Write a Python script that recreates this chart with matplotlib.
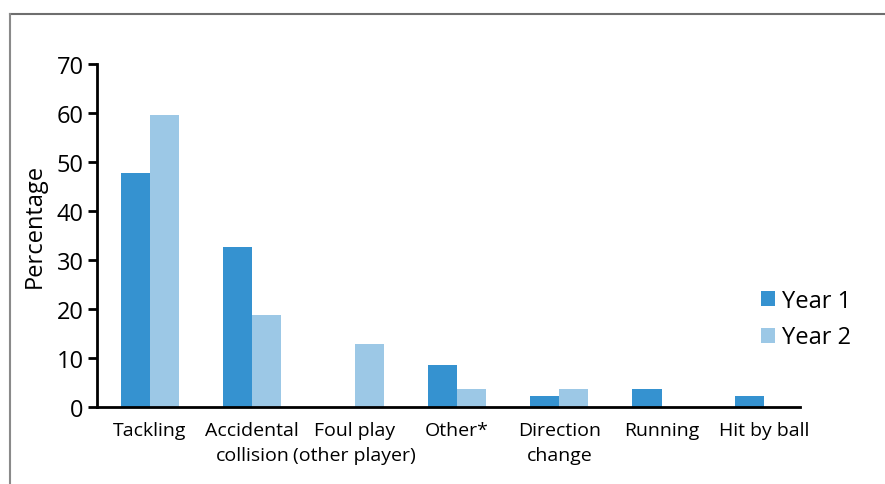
import numpy as np
import matplotlib.pyplot as plt
from matplotlib.lines import Line2D
from matplotlib.patches import Patch

plt.rcParams['font.family'] = ['Open Sans', 'DejaVu Sans']

# данные
categories = ['Tackling', 'Accidental\ncollision', 'Foul play\n(other player)', 'Other*',
              'Direction\nchange', 'Running', 'Hit by ball']
year1 = [47.8, 32.6, 0, 8.6, 2.3, 3.6, 2.3]
year2 = [59.6, 18.8, 12.9, 3.6, 3.6, 0, 0]
series_names = ['Year 1', 'Year 2']
colors = ['#3592D0', '#9CC8E6']

fig = plt.figure(figsize=(8.85, 4.85), dpi=100)
ax = fig.add_axes([97 / 885, (485 - 408) / 485, (800 - 97) / 885, (408 - 65) / 485])

x = np.arange(len(categories))
w = 0.285
ax.bar(x - w / 2, year1, width=w, color=colors[0], linewidth=0)
ax.bar(x + w / 2, year2, width=w, color=colors[1], linewidth=0)

ax.set_xlim(-0.518, 6.352)
ax.set_ylim(0, 70)
ax.set_yticks(range(0, 71, 10))
ax.set_xticks(x)
ax.set_xticklabels(categories, fontsize=14, linespacing=1.5)
ax.tick_params(axis='x', length=0, pad=10)
ax.tick_params(axis='y', length=6.5, width=2, labelsize=17, pad=3)

for s in ['top', 'right']:
    ax.spines[s].set_visible(False)
ax.spines['left'].set_linewidth(2)
ax.spines['bottom'].set_linewidth(2)

ax.set_ylabel('Percentage', fontsize=17)
ax.yaxis.set_label_coords(-0.092 + 0.02, 0.53)

handles = [Patch(color=c, linewidth=0) for c in colors]
fig.legend(handles, series_names, loc='center left', bbox_to_anchor=(740 / 885, (485 - 320) / 485),
           frameon=False, fontsize=17, handlelength=0.6, handleheight=0.6,
           handletextpad=0.3, labelspacing=0.55)

# рамка
fig.add_artist(Line2D([10 / 885, 1], [1 - 15 / 485, 1 - 15 / 485], color='#6E6E6E', lw=1.5))
fig.add_artist(Line2D([10 / 885, 10 / 885], [0, 1 - 15 / 485], color='#8A8A8A', lw=1.5))

plt.savefig('out.png', dpi=100, facecolor='white')
